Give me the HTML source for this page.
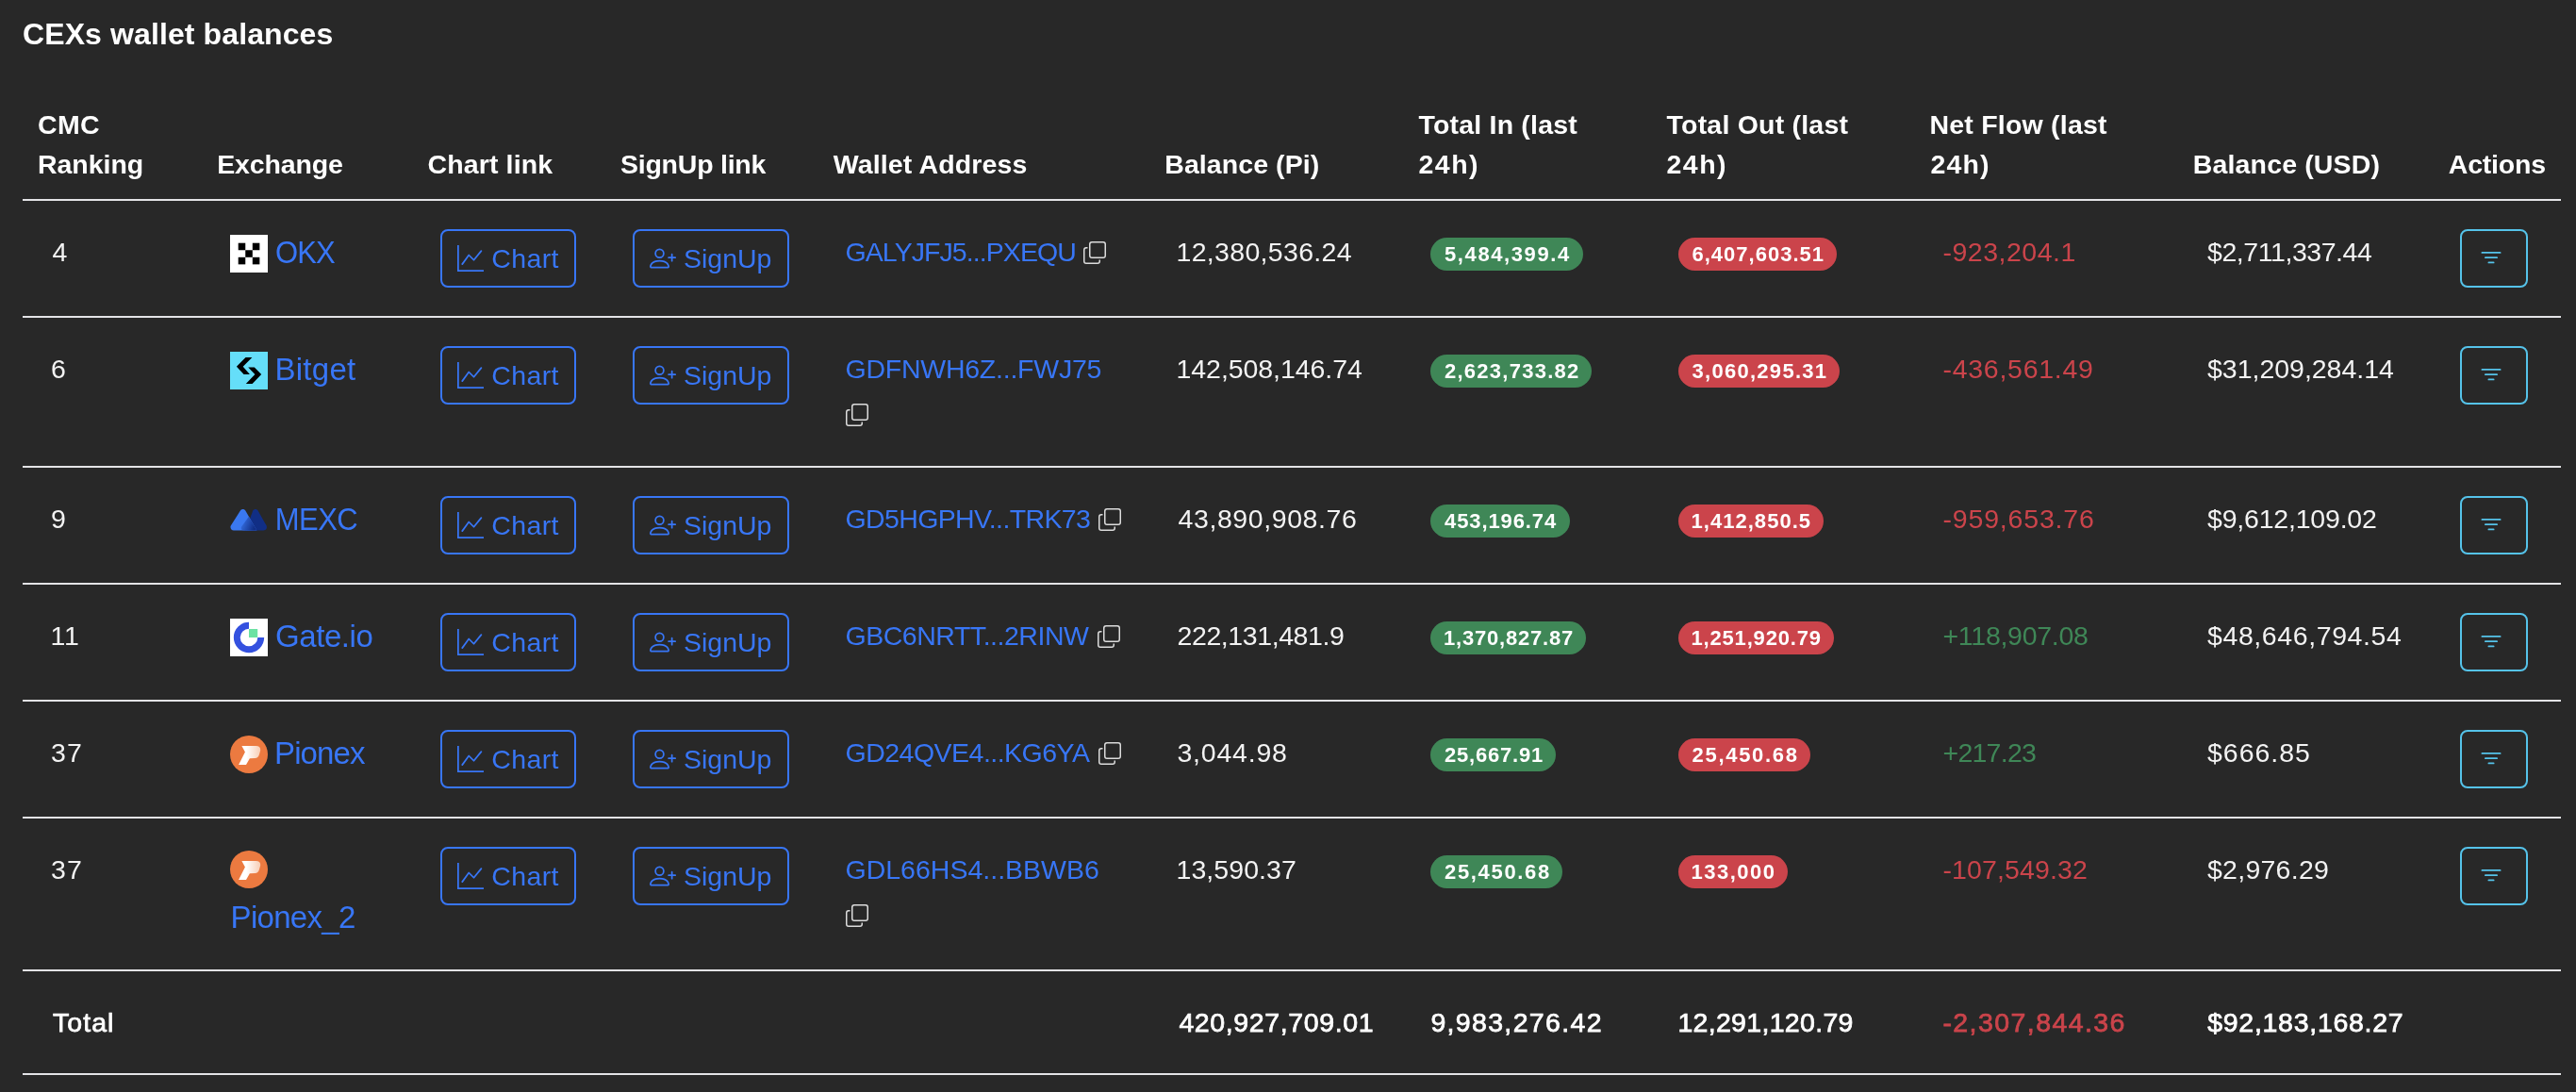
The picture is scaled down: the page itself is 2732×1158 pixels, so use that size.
<!DOCTYPE html>
<html><head><meta charset="utf-8"><title>CEXs wallet balances</title>
<style>
html,body{margin:0;padding:0;background:#282828;}
body{width:2732px;height:1158px;position:relative;overflow:hidden;font-family:"Liberation Sans",sans-serif;}
.t{position:absolute;white-space:nowrap;display:block;}
.ln{position:absolute;left:24px;width:2692px;height:2px;background:#e3e3e6;}
.btn{position:absolute;height:62px;box-sizing:border-box;border:2px solid;border-radius:8px;}
.bd{position:absolute;height:35px;border-radius:18px;}
svg{position:absolute;display:block;overflow:visible;}
#w{position:absolute;left:0;top:0;width:2732px;height:1158px;will-change:transform;}
</style></head><body><div id="w">
<div class="ln" style="top:211px"></div><div class="ln" style="top:335px"></div><div class="ln" style="top:494px"></div><div class="ln" style="top:618px"></div><div class="ln" style="top:742px"></div><div class="ln" style="top:866px"></div><div class="ln" style="top:1028px"></div><div class="ln" style="top:1138px"></div>
<svg style="left:244px;top:249px" width="40" height="40" viewBox="0 0 40 40"><rect width="40" height="40" fill="#fff"/><g fill="#000"><rect x="8.7" y="8.7" width="7.55" height="7.55"/><rect x="23.8" y="8.7" width="7.55" height="7.55"/><rect x="16.25" y="16.25" width="7.55" height="7.55"/><rect x="8.7" y="23.8" width="7.55" height="7.55"/><rect x="23.8" y="23.8" width="7.55" height="7.55"/></g></svg>
<div class="btn" style="left:467px;top:243px;width:144px;border-color:#3876f6"></div>
<svg style="left:485px;top:259.75px" width="28" height="28" viewBox="0 0 16 16" fill="#3876f6"><path d="M0 0h1v15h15v1H0zm14.817 3.113a.5.5 0 0 1 .07.704l-4.5 5.5a.5.5 0 0 1-.74.037L7.06 6.767l-3.656 5.027a.5.5 0 0 1-.808-.588l4-5.5a.5.5 0 0 1 .758-.06l2.609 2.61 4.15-5.073a.5.5 0 0 1 .704-.07" fill-rule="evenodd"/></svg>
<div class="btn" style="left:671px;top:243px;width:166px;border-color:#3876f6"></div>
<svg style="left:688.7px;top:259.75px" width="28" height="28" viewBox="0 0 16 16" fill="#3876f6"><path d="M6 8a3 3 0 1 0 0-6 3 3 0 0 0 0 6m2-3a2 2 0 1 1-4 0 2 2 0 0 1 4 0m4 8c0 1-1 1-1 1H1s-1 0-1-1 1-4 6-4 6 3 6 4m-1-.004c-.001-.246-.154-.986-.832-1.664C9.516 10.68 8.289 10 6 10s-3.516.68-4.168 1.332c-.678.678-.83 1.418-.832 1.664z"/><path fill-rule="evenodd" d="M13.5 5a.5.5 0 0 1 .5.5V7h1.5a.5.5 0 0 1 0 1H14v1.5a.5.5 0 0 1-1 0V8h-1.5a.5.5 0 0 1 0-1H13V5.5a.5.5 0 0 1 .5-.5"/></svg>
<svg style="left:1149.0px;top:256px" width="24" height="24" viewBox="0 0 16 16" fill="#dcdcdc"><path fill-rule="evenodd" d="M4 2a2 2 0 0 1 2-2h8a2 2 0 0 1 2 2v8a2 2 0 0 1-2 2H6a2 2 0 0 1-2-2zm2-1a1 1 0 0 0-1 1v8a1 1 0 0 0 1 1h8a1 1 0 0 0 1-1V2a1 1 0 0 0-1-1zM2 5a1 1 0 0 0-1 1v8a1 1 0 0 0 1 1h8a1 1 0 0 0 1-1v-1h1v1a2 2 0 0 1-2 2H2a2 2 0 0 1-2-2V6a2 2 0 0 1 2-2h1v1z"/></svg>
<div class="bd" style="left:1517px;top:252px;width:162px;background:#3f8757"></div>
<div class="bd" style="left:1780px;top:252px;width:168px;background:#cb444b"></div>
<div class="btn" style="left:2609px;top:243px;width:72px;border-color:#55c3ea"></div>
<svg style="left:2627.5px;top:259.75px" width="28" height="28" viewBox="0 0 16 16" fill="#55c3ea"><path d="M6 10.5a.5.5 0 0 1 .5-.5h3a.5.5 0 0 1 0 1h-3a.5.5 0 0 1-.5-.5m-2-3a.5.5 0 0 1 .5-.5h7a.5.5 0 0 1 0 1h-7a.5.5 0 0 1-.5-.5m-2-3a.5.5 0 0 1 .5-.5h11a.5.5 0 0 1 0 1h-11a.5.5 0 0 1-.5-.5"/></svg>
<svg style="left:244px;top:373px" width="40" height="40" viewBox="0 0 40 40"><rect width="40" height="40" fill="#65def9"/><path d="M16.5 6H23.4L13.7 15.7L20.9 23.9H14.6L6.9 15.7Z M19.2 16.4H25.8L33.2 23.9L23.6 34.1H16.8L26.4 23.9Z" fill="#000"/></svg>
<div class="btn" style="left:467px;top:367px;width:144px;border-color:#3876f6"></div>
<svg style="left:485px;top:383.75px" width="28" height="28" viewBox="0 0 16 16" fill="#3876f6"><path d="M0 0h1v15h15v1H0zm14.817 3.113a.5.5 0 0 1 .07.704l-4.5 5.5a.5.5 0 0 1-.74.037L7.06 6.767l-3.656 5.027a.5.5 0 0 1-.808-.588l4-5.5a.5.5 0 0 1 .758-.06l2.609 2.61 4.15-5.073a.5.5 0 0 1 .704-.07" fill-rule="evenodd"/></svg>
<div class="btn" style="left:671px;top:367px;width:166px;border-color:#3876f6"></div>
<svg style="left:688.7px;top:383.75px" width="28" height="28" viewBox="0 0 16 16" fill="#3876f6"><path d="M6 8a3 3 0 1 0 0-6 3 3 0 0 0 0 6m2-3a2 2 0 1 1-4 0 2 2 0 0 1 4 0m4 8c0 1-1 1-1 1H1s-1 0-1-1 1-4 6-4 6 3 6 4m-1-.004c-.001-.246-.154-.986-.832-1.664C9.516 10.68 8.289 10 6 10s-3.516.68-4.168 1.332c-.678.678-.83 1.418-.832 1.664z"/><path fill-rule="evenodd" d="M13.5 5a.5.5 0 0 1 .5.5V7h1.5a.5.5 0 0 1 0 1H14v1.5a.5.5 0 0 1-1 0V8h-1.5a.5.5 0 0 1 0-1H13V5.5a.5.5 0 0 1 .5-.5"/></svg>
<svg style="left:896.7px;top:428px" width="24" height="24" viewBox="0 0 16 16" fill="#dcdcdc"><path fill-rule="evenodd" d="M4 2a2 2 0 0 1 2-2h8a2 2 0 0 1 2 2v8a2 2 0 0 1-2 2H6a2 2 0 0 1-2-2zm2-1a1 1 0 0 0-1 1v8a1 1 0 0 0 1 1h8a1 1 0 0 0 1-1V2a1 1 0 0 0-1-1zM2 5a1 1 0 0 0-1 1v8a1 1 0 0 0 1 1h8a1 1 0 0 0 1-1v-1h1v1a2 2 0 0 1-2 2H2a2 2 0 0 1-2-2V6a2 2 0 0 1 2-2h1v1z"/></svg>
<div class="bd" style="left:1517px;top:376px;width:171px;background:#3f8757"></div>
<div class="bd" style="left:1780px;top:376px;width:171px;background:#cb444b"></div>
<div class="btn" style="left:2609px;top:367px;width:72px;border-color:#55c3ea"></div>
<svg style="left:2627.5px;top:383.75px" width="28" height="28" viewBox="0 0 16 16" fill="#55c3ea"><path d="M6 10.5a.5.5 0 0 1 .5-.5h3a.5.5 0 0 1 0 1h-3a.5.5 0 0 1-.5-.5m-2-3a.5.5 0 0 1 .5-.5h7a.5.5 0 0 1 0 1h-7a.5.5 0 0 1-.5-.5m-2-3a.5.5 0 0 1 .5-.5h11a.5.5 0 0 1 0 1h-11a.5.5 0 0 1-.5-.5"/></svg>
<svg style="left:244px;top:532px" width="40" height="40" viewBox="0 0 40 40"><defs><linearGradient id="mg" x1="0" y1="0" x2="1" y2="0.35"><stop offset="0" stop-color="#3a78f0"/><stop offset="1" stop-color="#112e85"/></linearGradient></defs><path d="M24.2 9.6c1.2-2 4.2-2 5.4 0l8.9 15.6c1.3 2.300-.3 5.200-3 5.200H16.500z" fill="#112e85"/><path d="M10.900 9.600c1.200-2 4.200-2 5.400 0l12.100 20.800H3.900c-2.700 0-4.300-2.900-3-5.200z" fill="#3a78f0"/><path d="M19.900 15.800l8.500 14.600H14.300c-2.200 0-3.200-2.100-2.200-3.900z" fill="url(#mg)"/></svg>
<div class="btn" style="left:467px;top:526px;width:144px;border-color:#3876f6"></div>
<svg style="left:485px;top:542.75px" width="28" height="28" viewBox="0 0 16 16" fill="#3876f6"><path d="M0 0h1v15h15v1H0zm14.817 3.113a.5.5 0 0 1 .07.704l-4.5 5.5a.5.5 0 0 1-.74.037L7.06 6.767l-3.656 5.027a.5.5 0 0 1-.808-.588l4-5.5a.5.5 0 0 1 .758-.06l2.609 2.61 4.15-5.073a.5.5 0 0 1 .704-.07" fill-rule="evenodd"/></svg>
<div class="btn" style="left:671px;top:526px;width:166px;border-color:#3876f6"></div>
<svg style="left:688.7px;top:542.75px" width="28" height="28" viewBox="0 0 16 16" fill="#3876f6"><path d="M6 8a3 3 0 1 0 0-6 3 3 0 0 0 0 6m2-3a2 2 0 1 1-4 0 2 2 0 0 1 4 0m4 8c0 1-1 1-1 1H1s-1 0-1-1 1-4 6-4 6 3 6 4m-1-.004c-.001-.246-.154-.986-.832-1.664C9.516 10.68 8.289 10 6 10s-3.516.68-4.168 1.332c-.678.678-.83 1.418-.832 1.664z"/><path fill-rule="evenodd" d="M13.5 5a.5.5 0 0 1 .5.5V7h1.5a.5.5 0 0 1 0 1H14v1.5a.5.5 0 0 1-1 0V8h-1.5a.5.5 0 0 1 0-1H13V5.5a.5.5 0 0 1 .5-.5"/></svg>
<svg style="left:1164.8px;top:539px" width="24" height="24" viewBox="0 0 16 16" fill="#dcdcdc"><path fill-rule="evenodd" d="M4 2a2 2 0 0 1 2-2h8a2 2 0 0 1 2 2v8a2 2 0 0 1-2 2H6a2 2 0 0 1-2-2zm2-1a1 1 0 0 0-1 1v8a1 1 0 0 0 1 1h8a1 1 0 0 0 1-1V2a1 1 0 0 0-1-1zM2 5a1 1 0 0 0-1 1v8a1 1 0 0 0 1 1h8a1 1 0 0 0 1-1v-1h1v1a2 2 0 0 1-2 2H2a2 2 0 0 1-2-2V6a2 2 0 0 1 2-2h1v1z"/></svg>
<div class="bd" style="left:1517px;top:535px;width:148px;background:#3f8757"></div>
<div class="bd" style="left:1780px;top:535px;width:154px;background:#cb444b"></div>
<div class="btn" style="left:2609px;top:526px;width:72px;border-color:#55c3ea"></div>
<svg style="left:2627.5px;top:542.75px" width="28" height="28" viewBox="0 0 16 16" fill="#55c3ea"><path d="M6 10.5a.5.5 0 0 1 .5-.5h3a.5.5 0 0 1 0 1h-3a.5.5 0 0 1-.5-.5m-2-3a.5.5 0 0 1 .5-.5h7a.5.5 0 0 1 0 1h-7a.5.5 0 0 1-.5-.5m-2-3a.5.5 0 0 1 .5-.5h11a.5.5 0 0 1 0 1h-11a.5.5 0 0 1-.5-.5"/></svg>
<svg style="left:244px;top:656px" width="40" height="40" viewBox="0 0 40 40"><rect width="40" height="40" fill="#fff"/><path d="M20 3.850A16.150 16.150 0 1 0 36.150 20H29.250A9.250 9.250 0 1 1 20 10.750z" fill="#3451df"/><rect x="20" y="11" width="9.200" height="9.050" fill="#6be2a3"/></svg>
<div class="btn" style="left:467px;top:650px;width:144px;border-color:#3876f6"></div>
<svg style="left:485px;top:666.75px" width="28" height="28" viewBox="0 0 16 16" fill="#3876f6"><path d="M0 0h1v15h15v1H0zm14.817 3.113a.5.5 0 0 1 .07.704l-4.5 5.5a.5.5 0 0 1-.74.037L7.06 6.767l-3.656 5.027a.5.5 0 0 1-.808-.588l4-5.5a.5.5 0 0 1 .758-.06l2.609 2.61 4.15-5.073a.5.5 0 0 1 .704-.07" fill-rule="evenodd"/></svg>
<div class="btn" style="left:671px;top:650px;width:166px;border-color:#3876f6"></div>
<svg style="left:688.7px;top:666.75px" width="28" height="28" viewBox="0 0 16 16" fill="#3876f6"><path d="M6 8a3 3 0 1 0 0-6 3 3 0 0 0 0 6m2-3a2 2 0 1 1-4 0 2 2 0 0 1 4 0m4 8c0 1-1 1-1 1H1s-1 0-1-1 1-4 6-4 6 3 6 4m-1-.004c-.001-.246-.154-.986-.832-1.664C9.516 10.68 8.289 10 6 10s-3.516.68-4.168 1.332c-.678.678-.83 1.418-.832 1.664z"/><path fill-rule="evenodd" d="M13.5 5a.5.5 0 0 1 .5.5V7h1.5a.5.5 0 0 1 0 1H14v1.5a.5.5 0 0 1-1 0V8h-1.5a.5.5 0 0 1 0-1H13V5.5a.5.5 0 0 1 .5-.5"/></svg>
<svg style="left:1163.8px;top:663px" width="24" height="24" viewBox="0 0 16 16" fill="#dcdcdc"><path fill-rule="evenodd" d="M4 2a2 2 0 0 1 2-2h8a2 2 0 0 1 2 2v8a2 2 0 0 1-2 2H6a2 2 0 0 1-2-2zm2-1a1 1 0 0 0-1 1v8a1 1 0 0 0 1 1h8a1 1 0 0 0 1-1V2a1 1 0 0 0-1-1zM2 5a1 1 0 0 0-1 1v8a1 1 0 0 0 1 1h8a1 1 0 0 0 1-1v-1h1v1a2 2 0 0 1-2 2H2a2 2 0 0 1-2-2V6a2 2 0 0 1 2-2h1v1z"/></svg>
<div class="bd" style="left:1517px;top:659px;width:165px;background:#3f8757"></div>
<div class="bd" style="left:1780px;top:659px;width:165px;background:#cb444b"></div>
<div class="btn" style="left:2609px;top:650px;width:72px;border-color:#55c3ea"></div>
<svg style="left:2627.5px;top:666.75px" width="28" height="28" viewBox="0 0 16 16" fill="#55c3ea"><path d="M6 10.5a.5.5 0 0 1 .5-.5h3a.5.5 0 0 1 0 1h-3a.5.5 0 0 1-.5-.5m-2-3a.5.5 0 0 1 .5-.5h7a.5.5 0 0 1 0 1h-7a.5.5 0 0 1-.5-.5m-2-3a.5.5 0 0 1 .5-.5h11a.5.5 0 0 1 0 1h-11a.5.5 0 0 1-.5-.5"/></svg>
<svg style="left:244px;top:780px" width="40" height="40" viewBox="0 0 40 40"><defs><linearGradient id="pg" x1="0" y1="0" x2="1" y2="0"><stop offset="0.35" stop-color="#fff"/><stop offset="1" stop-color="#f8cdb4"/></linearGradient></defs><circle cx="20" cy="20" r="20" fill="#ec7a40"/><path d="M12.4 11H27.5Q32.8 11 32.1 16L31 20Q29.8 23.9 26.5 23.9L20.9 24.2L17 31H9.1L15.9 17.6Z" fill="url(#pg)"/></svg>
<div class="btn" style="left:467px;top:774px;width:144px;border-color:#3876f6"></div>
<svg style="left:485px;top:790.75px" width="28" height="28" viewBox="0 0 16 16" fill="#3876f6"><path d="M0 0h1v15h15v1H0zm14.817 3.113a.5.5 0 0 1 .07.704l-4.5 5.5a.5.5 0 0 1-.74.037L7.06 6.767l-3.656 5.027a.5.5 0 0 1-.808-.588l4-5.5a.5.5 0 0 1 .758-.06l2.609 2.61 4.15-5.073a.5.5 0 0 1 .704-.07" fill-rule="evenodd"/></svg>
<div class="btn" style="left:671px;top:774px;width:166px;border-color:#3876f6"></div>
<svg style="left:688.7px;top:790.75px" width="28" height="28" viewBox="0 0 16 16" fill="#3876f6"><path d="M6 8a3 3 0 1 0 0-6 3 3 0 0 0 0 6m2-3a2 2 0 1 1-4 0 2 2 0 0 1 4 0m4 8c0 1-1 1-1 1H1s-1 0-1-1 1-4 6-4 6 3 6 4m-1-.004c-.001-.246-.154-.986-.832-1.664C9.516 10.68 8.289 10 6 10s-3.516.68-4.168 1.332c-.678.678-.83 1.418-.832 1.664z"/><path fill-rule="evenodd" d="M13.5 5a.5.5 0 0 1 .5.5V7h1.5a.5.5 0 0 1 0 1H14v1.5a.5.5 0 0 1-1 0V8h-1.5a.5.5 0 0 1 0-1H13V5.5a.5.5 0 0 1 .5-.5"/></svg>
<svg style="left:1164.8px;top:787px" width="24" height="24" viewBox="0 0 16 16" fill="#dcdcdc"><path fill-rule="evenodd" d="M4 2a2 2 0 0 1 2-2h8a2 2 0 0 1 2 2v8a2 2 0 0 1-2 2H6a2 2 0 0 1-2-2zm2-1a1 1 0 0 0-1 1v8a1 1 0 0 0 1 1h8a1 1 0 0 0 1-1V2a1 1 0 0 0-1-1zM2 5a1 1 0 0 0-1 1v8a1 1 0 0 0 1 1h8a1 1 0 0 0 1-1v-1h1v1a2 2 0 0 1-2 2H2a2 2 0 0 1-2-2V6a2 2 0 0 1 2-2h1v1z"/></svg>
<div class="bd" style="left:1517px;top:783px;width:133px;background:#3f8757"></div>
<div class="bd" style="left:1780px;top:783px;width:140px;background:#cb444b"></div>
<div class="btn" style="left:2609px;top:774px;width:72px;border-color:#55c3ea"></div>
<svg style="left:2627.5px;top:790.75px" width="28" height="28" viewBox="0 0 16 16" fill="#55c3ea"><path d="M6 10.5a.5.5 0 0 1 .5-.5h3a.5.5 0 0 1 0 1h-3a.5.5 0 0 1-.5-.5m-2-3a.5.5 0 0 1 .5-.5h7a.5.5 0 0 1 0 1h-7a.5.5 0 0 1-.5-.5m-2-3a.5.5 0 0 1 .5-.5h11a.5.5 0 0 1 0 1h-11a.5.5 0 0 1-.5-.5"/></svg>
<svg style="left:244px;top:902px" width="40" height="40" viewBox="0 0 40 40"><defs><linearGradient id="pg" x1="0" y1="0" x2="1" y2="0"><stop offset="0.35" stop-color="#fff"/><stop offset="1" stop-color="#f8cdb4"/></linearGradient></defs><circle cx="20" cy="20" r="20" fill="#ec7a40"/><path d="M12.4 11H27.5Q32.8 11 32.1 16L31 20Q29.8 23.9 26.5 23.9L20.9 24.2L17 31H9.1L15.9 17.6Z" fill="url(#pg)"/></svg>
<div class="btn" style="left:467px;top:898px;width:144px;border-color:#3876f6"></div>
<svg style="left:485px;top:914.75px" width="28" height="28" viewBox="0 0 16 16" fill="#3876f6"><path d="M0 0h1v15h15v1H0zm14.817 3.113a.5.5 0 0 1 .07.704l-4.5 5.5a.5.5 0 0 1-.74.037L7.06 6.767l-3.656 5.027a.5.5 0 0 1-.808-.588l4-5.5a.5.5 0 0 1 .758-.06l2.609 2.61 4.15-5.073a.5.5 0 0 1 .704-.07" fill-rule="evenodd"/></svg>
<div class="btn" style="left:671px;top:898px;width:166px;border-color:#3876f6"></div>
<svg style="left:688.7px;top:914.75px" width="28" height="28" viewBox="0 0 16 16" fill="#3876f6"><path d="M6 8a3 3 0 1 0 0-6 3 3 0 0 0 0 6m2-3a2 2 0 1 1-4 0 2 2 0 0 1 4 0m4 8c0 1-1 1-1 1H1s-1 0-1-1 1-4 6-4 6 3 6 4m-1-.004c-.001-.246-.154-.986-.832-1.664C9.516 10.68 8.289 10 6 10s-3.516.68-4.168 1.332c-.678.678-.83 1.418-.832 1.664z"/><path fill-rule="evenodd" d="M13.5 5a.5.5 0 0 1 .5.5V7h1.5a.5.5 0 0 1 0 1H14v1.5a.5.5 0 0 1-1 0V8h-1.5a.5.5 0 0 1 0-1H13V5.5a.5.5 0 0 1 .5-.5"/></svg>
<svg style="left:896.7px;top:959px" width="24" height="24" viewBox="0 0 16 16" fill="#dcdcdc"><path fill-rule="evenodd" d="M4 2a2 2 0 0 1 2-2h8a2 2 0 0 1 2 2v8a2 2 0 0 1-2 2H6a2 2 0 0 1-2-2zm2-1a1 1 0 0 0-1 1v8a1 1 0 0 0 1 1h8a1 1 0 0 0 1-1V2a1 1 0 0 0-1-1zM2 5a1 1 0 0 0-1 1v8a1 1 0 0 0 1 1h8a1 1 0 0 0 1-1v-1h1v1a2 2 0 0 1-2 2H2a2 2 0 0 1-2-2V6a2 2 0 0 1 2-2h1v1z"/></svg>
<div class="bd" style="left:1517px;top:907px;width:140px;background:#3f8757"></div>
<div class="bd" style="left:1780px;top:907px;width:116px;background:#cb444b"></div>
<div class="btn" style="left:2609px;top:898px;width:72px;border-color:#55c3ea"></div>
<svg style="left:2627.5px;top:914.75px" width="28" height="28" viewBox="0 0 16 16" fill="#55c3ea"><path d="M6 10.5a.5.5 0 0 1 .5-.5h3a.5.5 0 0 1 0 1h-3a.5.5 0 0 1-.5-.5m-2-3a.5.5 0 0 1 .5-.5h7a.5.5 0 0 1 0 1h-7a.5.5 0 0 1-.5-.5m-2-3a.5.5 0 0 1 .5-.5h11a.5.5 0 0 1 0 1h-11a.5.5 0 0 1-.5-.5"/></svg>
<span class="t" style="left:24.00px;top:20.41px;font-size:32px;line-height:32px;font-weight:700;color:#ffffff;letter-spacing:0.107px">CEXs wallet balances</span>
<span class="t" style="left:40.00px;top:118.27px;font-size:28.5px;line-height:28.5px;font-weight:700;color:#ffffff;letter-spacing:0.339px">CMC</span>
<span class="t" style="left:40.00px;top:160.17px;font-size:28.5px;line-height:28.5px;font-weight:700;color:#ffffff;letter-spacing:-0.045px">Ranking</span>
<span class="t" style="left:230.25px;top:160.17px;font-size:28.5px;line-height:28.5px;font-weight:700;color:#ffffff;letter-spacing:-0.148px">Exchange</span>
<span class="t" style="left:453.50px;top:160.17px;font-size:28.5px;line-height:28.5px;font-weight:700;color:#ffffff;letter-spacing:0.129px">Chart link</span>
<span class="t" style="left:658.00px;top:160.17px;font-size:28.5px;line-height:28.5px;font-weight:700;color:#ffffff;letter-spacing:-0.240px">SignUp link</span>
<span class="t" style="left:883.75px;top:160.17px;font-size:28.5px;line-height:28.5px;font-weight:700;color:#ffffff;letter-spacing:0.136px">Wallet Address</span>
<span class="t" style="left:1235.25px;top:160.17px;font-size:28.5px;line-height:28.5px;font-weight:700;color:#ffffff;letter-spacing:0.078px">Balance (Pi)</span>
<span class="t" style="left:1504.50px;top:118.27px;font-size:28.5px;line-height:28.5px;font-weight:700;color:#ffffff;letter-spacing:0.193px">Total In (last</span>
<span class="t" style="left:1504.50px;top:160.17px;font-size:28.5px;line-height:28.5px;font-weight:700;color:#ffffff;letter-spacing:1.463px">24h)</span>
<span class="t" style="left:1767.50px;top:118.27px;font-size:28.5px;line-height:28.5px;font-weight:700;color:#ffffff;letter-spacing:0.216px">Total Out (last</span>
<span class="t" style="left:1767.50px;top:160.17px;font-size:28.5px;line-height:28.5px;font-weight:700;color:#ffffff;letter-spacing:1.463px">24h)</span>
<span class="t" style="left:2046.50px;top:118.27px;font-size:28.5px;line-height:28.5px;font-weight:700;color:#ffffff;letter-spacing:0.210px">Net Flow (last</span>
<span class="t" style="left:2047.50px;top:160.17px;font-size:28.5px;line-height:28.5px;font-weight:700;color:#ffffff;letter-spacing:1.130px">24h)</span>
<span class="t" style="left:2325.75px;top:160.17px;font-size:28.5px;line-height:28.5px;font-weight:700;color:#ffffff;letter-spacing:0.155px">Balance (USD)</span>
<span class="t" style="left:2596.75px;top:160.17px;font-size:28.5px;line-height:28.5px;font-weight:700;color:#ffffff;letter-spacing:-0.193px">Actions</span>
<span class="t" style="left:55.50px;top:253.37px;font-size:28.5px;line-height:28.5px;color:#f3f3f3;letter-spacing:0.000px">4</span>
<span class="t" style="left:292.00px;top:252.76px;font-size:31px;line-height:31px;color:#3876f6;letter-spacing:-0.895px;transform-origin:0 26.24px;transform:scaleY(1.07)">OKX</span>
<span class="t" style="left:521.30px;top:259.87px;font-size:28.5px;line-height:28.5px;color:#3876f6;letter-spacing:0.357px">Chart</span>
<span class="t" style="left:725.00px;top:259.87px;font-size:28.5px;line-height:28.5px;color:#3876f6;letter-spacing:-0.005px">SignUp</span>
<span class="t" style="left:896.50px;top:253.37px;font-size:28.5px;line-height:28.5px;color:#3876f6;letter-spacing:-0.929px">GALYJFJ5...PXEQU</span>
<span class="t" style="left:1247.50px;top:253.37px;font-size:28.5px;line-height:28.5px;color:#f3f3f3;letter-spacing:0.320px">12,380,536.24</span>
<span class="t" style="left:1532.00px;top:258.88px;font-size:22px;line-height:22px;font-weight:700;color:#ffffff;letter-spacing:1.602px">5,484,399.4</span>
<span class="t" style="left:1794.50px;top:258.88px;font-size:22px;line-height:22px;font-weight:700;color:#ffffff;letter-spacing:1.007px">6,407,603.51</span>
<span class="t" style="left:2060.50px;top:253.37px;font-size:28.5px;line-height:28.5px;color:#cb444b;letter-spacing:0.508px">-923,204.1</span>
<span class="t" style="left:2341.00px;top:253.37px;font-size:28.5px;line-height:28.5px;color:#f3f3f3;letter-spacing:-0.441px">$2,711,337.44</span>
<span class="t" style="left:54.00px;top:377.37px;font-size:28.5px;line-height:28.5px;color:#f3f3f3;letter-spacing:0.000px">6</span>
<span class="t" style="left:291.50px;top:375.07px;font-size:33px;line-height:33px;color:#3876f6;letter-spacing:0.257px">Bitget</span>
<span class="t" style="left:521.30px;top:383.87px;font-size:28.5px;line-height:28.5px;color:#3876f6;letter-spacing:0.357px">Chart</span>
<span class="t" style="left:725.00px;top:383.87px;font-size:28.5px;line-height:28.5px;color:#3876f6;letter-spacing:-0.005px">SignUp</span>
<span class="t" style="left:896.50px;top:377.37px;font-size:28.5px;line-height:28.5px;color:#3876f6;letter-spacing:-0.243px">GDFNWH6Z...FWJ75</span>
<span class="t" style="left:1247.50px;top:377.37px;font-size:28.5px;line-height:28.5px;color:#f3f3f3;letter-spacing:-0.058px">142,508,146.74</span>
<span class="t" style="left:1532.00px;top:382.88px;font-size:22px;line-height:22px;font-weight:700;color:#ffffff;letter-spacing:1.253px">2,623,733.82</span>
<span class="t" style="left:1794.50px;top:382.88px;font-size:22px;line-height:22px;font-weight:700;color:#ffffff;letter-spacing:1.280px">3,060,295.31</span>
<span class="t" style="left:2060.50px;top:377.37px;font-size:28.5px;line-height:28.5px;color:#cb444b;letter-spacing:0.722px">-436,561.49</span>
<span class="t" style="left:2341.00px;top:377.37px;font-size:28.5px;line-height:28.5px;color:#f3f3f3;letter-spacing:-0.020px">$31,209,284.14</span>
<span class="t" style="left:54.00px;top:536.37px;font-size:28.5px;line-height:28.5px;color:#f3f3f3;letter-spacing:0.000px">9</span>
<span class="t" style="left:291.80px;top:535.76px;font-size:31px;line-height:31px;color:#3876f6;letter-spacing:-0.559px;transform-origin:0 26.24px;transform:scaleY(1.07)">MEXC</span>
<span class="t" style="left:521.30px;top:542.87px;font-size:28.5px;line-height:28.5px;color:#3876f6;letter-spacing:0.357px">Chart</span>
<span class="t" style="left:725.00px;top:542.87px;font-size:28.5px;line-height:28.5px;color:#3876f6;letter-spacing:-0.005px">SignUp</span>
<span class="t" style="left:896.50px;top:536.37px;font-size:28.5px;line-height:28.5px;color:#3876f6;letter-spacing:-0.629px">GD5HGPHV...TRK73</span>
<span class="t" style="left:1249.50px;top:536.37px;font-size:28.5px;line-height:28.5px;color:#f3f3f3;letter-spacing:0.591px">43,890,908.76</span>
<span class="t" style="left:1532.00px;top:541.88px;font-size:22px;line-height:22px;font-weight:700;color:#ffffff;letter-spacing:0.903px">453,196.74</span>
<span class="t" style="left:1793.50px;top:541.88px;font-size:22px;line-height:22px;font-weight:700;color:#ffffff;letter-spacing:1.032px">1,412,850.5</span>
<span class="t" style="left:2060.50px;top:536.37px;font-size:28.5px;line-height:28.5px;color:#cb444b;letter-spacing:0.822px">-959,653.76</span>
<span class="t" style="left:2341.00px;top:536.37px;font-size:28.5px;line-height:28.5px;color:#f3f3f3;letter-spacing:-0.201px">$9,612,109.02</span>
<span class="t" style="left:53.50px;top:660.37px;font-size:28.5px;line-height:28.5px;color:#f3f3f3;letter-spacing:0.000px">1</span>
<span class="t" style="left:68.00px;top:660.37px;font-size:28.5px;line-height:28.5px;color:#f3f3f3;letter-spacing:0.000px">1</span>
<span class="t" style="left:292.00px;top:658.07px;font-size:33px;line-height:33px;color:#3876f6;letter-spacing:-0.424px">Gate.io</span>
<span class="t" style="left:521.30px;top:666.87px;font-size:28.5px;line-height:28.5px;color:#3876f6;letter-spacing:0.357px">Chart</span>
<span class="t" style="left:725.00px;top:666.87px;font-size:28.5px;line-height:28.5px;color:#3876f6;letter-spacing:-0.005px">SignUp</span>
<span class="t" style="left:896.50px;top:660.37px;font-size:28.5px;line-height:28.5px;color:#3876f6;letter-spacing:-0.474px">GBC6NRTT...2RINW</span>
<span class="t" style="left:1248.50px;top:660.37px;font-size:28.5px;line-height:28.5px;color:#f3f3f3;letter-spacing:-0.409px">222,131,481.9</span>
<span class="t" style="left:1531.00px;top:665.88px;font-size:22px;line-height:22px;font-weight:700;color:#ffffff;letter-spacing:0.798px">1,370,827.87</span>
<span class="t" style="left:1793.50px;top:665.88px;font-size:22px;line-height:22px;font-weight:700;color:#ffffff;letter-spacing:0.825px">1,251,920.79</span>
<span class="t" style="left:2060.50px;top:660.37px;font-size:28.5px;line-height:28.5px;color:#3f8757;letter-spacing:-0.282px">+118,907.08</span>
<span class="t" style="left:2341.00px;top:660.37px;font-size:28.5px;line-height:28.5px;color:#f3f3f3;letter-spacing:0.596px">$48,646,794.54</span>
<span class="t" style="left:54.00px;top:784.37px;font-size:28.5px;line-height:28.5px;color:#f3f3f3;letter-spacing:1.150px">37</span>
<span class="t" style="left:291.00px;top:782.07px;font-size:33px;line-height:33px;color:#3876f6;letter-spacing:-0.880px">Pionex</span>
<span class="t" style="left:521.30px;top:790.87px;font-size:28.5px;line-height:28.5px;color:#3876f6;letter-spacing:0.357px">Chart</span>
<span class="t" style="left:725.00px;top:790.87px;font-size:28.5px;line-height:28.5px;color:#3876f6;letter-spacing:-0.005px">SignUp</span>
<span class="t" style="left:896.50px;top:784.37px;font-size:28.5px;line-height:28.5px;color:#3876f6;letter-spacing:-0.511px">GD24QVE4...KG6YA</span>
<span class="t" style="left:1248.50px;top:784.37px;font-size:28.5px;line-height:28.5px;color:#f3f3f3;letter-spacing:0.773px">3,044.98</span>
<span class="t" style="left:1532.00px;top:789.88px;font-size:22px;line-height:22px;font-weight:700;color:#ffffff;letter-spacing:0.795px">25,667.91</span>
<span class="t" style="left:1794.50px;top:789.88px;font-size:22px;line-height:22px;font-weight:700;color:#ffffff;letter-spacing:1.708px">25,450.68</span>
<span class="t" style="left:2060.50px;top:784.37px;font-size:28.5px;line-height:28.5px;color:#3f8757;letter-spacing:-0.744px">+217.23</span>
<span class="t" style="left:2341.00px;top:784.37px;font-size:28.5px;line-height:28.5px;color:#f3f3f3;letter-spacing:0.972px">$666.85</span>
<span class="t" style="left:54.00px;top:908.37px;font-size:28.5px;line-height:28.5px;color:#f3f3f3;letter-spacing:1.150px">37</span>
<span class="t" style="left:244.60px;top:956.07px;font-size:33px;line-height:33px;color:#3876f6;letter-spacing:-0.693px">Pionex_2</span>
<span class="t" style="left:521.30px;top:914.87px;font-size:28.5px;line-height:28.5px;color:#3876f6;letter-spacing:0.357px">Chart</span>
<span class="t" style="left:725.00px;top:914.87px;font-size:28.5px;line-height:28.5px;color:#3876f6;letter-spacing:-0.005px">SignUp</span>
<span class="t" style="left:896.50px;top:908.37px;font-size:28.5px;line-height:28.5px;color:#3876f6;letter-spacing:0.005px">GDL66HS4...BBWB6</span>
<span class="t" style="left:1247.50px;top:908.37px;font-size:28.5px;line-height:28.5px;color:#f3f3f3;letter-spacing:0.070px">13,590.37</span>
<span class="t" style="left:1532.00px;top:913.88px;font-size:22px;line-height:22px;font-weight:700;color:#ffffff;letter-spacing:1.670px">25,450.68</span>
<span class="t" style="left:1793.50px;top:913.88px;font-size:22px;line-height:22px;font-weight:700;color:#ffffff;letter-spacing:1.502px">133,000</span>
<span class="t" style="left:2060.50px;top:908.37px;font-size:28.5px;line-height:28.5px;color:#cb444b;letter-spacing:0.122px">-107,549.32</span>
<span class="t" style="left:2341.00px;top:908.37px;font-size:28.5px;line-height:28.5px;color:#f3f3f3;letter-spacing:0.258px">$2,976.29</span>
<span class="t" style="left:55.88px;top:1070.37px;font-size:28.5px;line-height:28.5px;color:#ffffff;letter-spacing:1.095px;-webkit-text-stroke:0.75px #ffffff">Total</span>
<span class="t" style="left:1250.38px;top:1070.37px;font-size:28.5px;line-height:28.5px;color:#ffffff;letter-spacing:0.615px;-webkit-text-stroke:0.75px #ffffff">420,927,709.01</span>
<span class="t" style="left:1517.38px;top:1070.37px;font-size:28.5px;line-height:28.5px;color:#ffffff;letter-spacing:1.336px;-webkit-text-stroke:0.75px #ffffff">9,983,276.42</span>
<span class="t" style="left:1779.38px;top:1070.37px;font-size:28.5px;line-height:28.5px;color:#ffffff;letter-spacing:0.320px;-webkit-text-stroke:0.75px #ffffff">12,291,120.79</span>
<span class="t" style="left:2060.38px;top:1070.37px;font-size:28.5px;line-height:28.5px;color:#cb444b;letter-spacing:1.433px;-webkit-text-stroke:0.75px #cb444b">-2,307,844.36</span>
<span class="t" style="left:2341.18px;top:1070.37px;font-size:28.5px;line-height:28.5px;color:#ffffff;letter-spacing:0.722px;-webkit-text-stroke:0.75px #ffffff">$92,183,168.27</span>
</div></body></html>
